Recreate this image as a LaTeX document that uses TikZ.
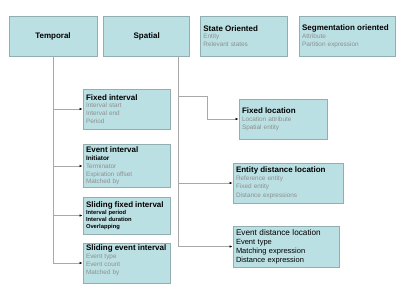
\documentclass[tikz,border=0pt]{standalone}
\usepackage{fontspec}
\setmainfont{Liberation Sans}
\usetikzlibrary{arrows.meta,positioning}

\definecolor{boxfill}{HTML}{BBE0E3}
\definecolor{boxline}{HTML}{93AEB0}
\definecolor{wire}{HTML}{A8A8A8}
\definecolor{itemgray}{HTML}{8E8E8E}

\newcommand{\hd}[1]{{\fontsize{8}{9}\selectfont\bfseries\color{black}#1}}
\newcommand{\bk}[1]{{\bfseries\color{black}#1}}

\begin{document}
\begin{tikzpicture}[
        x=1pt, y=-1pt,
        box/.style={draw=boxline, fill=boxfill, line width=0.7pt, inner xsep=3pt, inner ysep=2pt, align=left, text=itemgray, font=\fontsize{6.4}{7.8}\selectfont},
        head/.style={box, align=center, text=black, font=\fontsize{8}{9}\selectfont\bfseries, text width=#1, minimum height=40pt},
        arrow/.style={-{Latex[length=3pt,width=2.4pt,color=black]}, draw=wire, line width=0.7pt}
    ]
        \useasboundingbox (0,0) rectangle (400,300);

        % top row
        \node[head=82pt] (temporal) at (53,36) {Temporal};
        \node[head=80pt, right=6pt of temporal] (spatial) {Spatial};
        \node[box, text width=81pt, minimum height=40pt, right=10pt of spatial] (state) {\hd{State Oriented}\\Entity\\Relevant states};
        \node[box, text width=90pt, minimum height=40pt, right=11pt of state] (segm) {\hd{Segmentation oriented}\\Attribute\\Partition expression};

        % temporal branch
        \node[box, text width=81pt, minimum height=40pt] (fixint) at (126.5,109) {\hd{Fixed interval}\\Interval start\\Interval end\\Period};
        \node[box, text width=81pt, minimum height=42pt] (evint) at (126.5,166) {\hd{Event interval}\\\bk{Initiator}\\Terminator\\Expiration offset\\Matched by};
        \node[box, text width=81pt, minimum height=37pt, text=black, font=\fontsize{5.8}{7}\selectfont\bfseries] (slfix) at (126.5,215.5) {\hd{Sliding fixed interval}\\Interval period\\Interval duration\\Overlapping};
        \node[box, text width=81pt, minimum height=40pt, text depth=30pt] (slev) at (126.5,263) {\hd{Sliding event interval}\\Event type\\Event count\\Matched by};

        % spatial branch
        \node[box, text width=82pt, minimum height=40pt] (fixloc) at (283,119) {\hd{Fixed location}\\Location attribute\\Spatial entity};
        \node[box, text width=104pt, minimum height=40pt] (entdist) at (288,183) {\hd{Entity distance location}\\Reference entity\\Fixed entity\\[2pt]Distance expressions};
        \node[box, text width=100pt, minimum height=41pt, text=black, font=\fontsize{7.5}{9}\selectfont] (evdist) at (286,246.5) {{\fontsize{8.2}{9}\selectfont Event distance location}\\Event type\\Matching expression\\Distance expression};

        \coordinate (spine) at ([xshift=-12pt]spatial.south east);
        \coordinate (bend) at (207,96);

        \draw[arrow] (temporal.south) |- (slev.west);
        \draw[arrow] (temporal.south |- fixint.west) -- (fixint.west);
        \draw[arrow] (temporal.south |- evint.west) -- (evint.west);
        \draw[arrow] (temporal.south |- slfix.west) -- (slfix.west);

        \draw[arrow] (spine) |- (evdist.west);
        \draw[arrow] (spine |- entdist.west) -- (entdist.west);
        \draw[arrow] (spine |- bend) -- (bend) |- (fixloc.west);
    \end{tikzpicture}
\end{document}
